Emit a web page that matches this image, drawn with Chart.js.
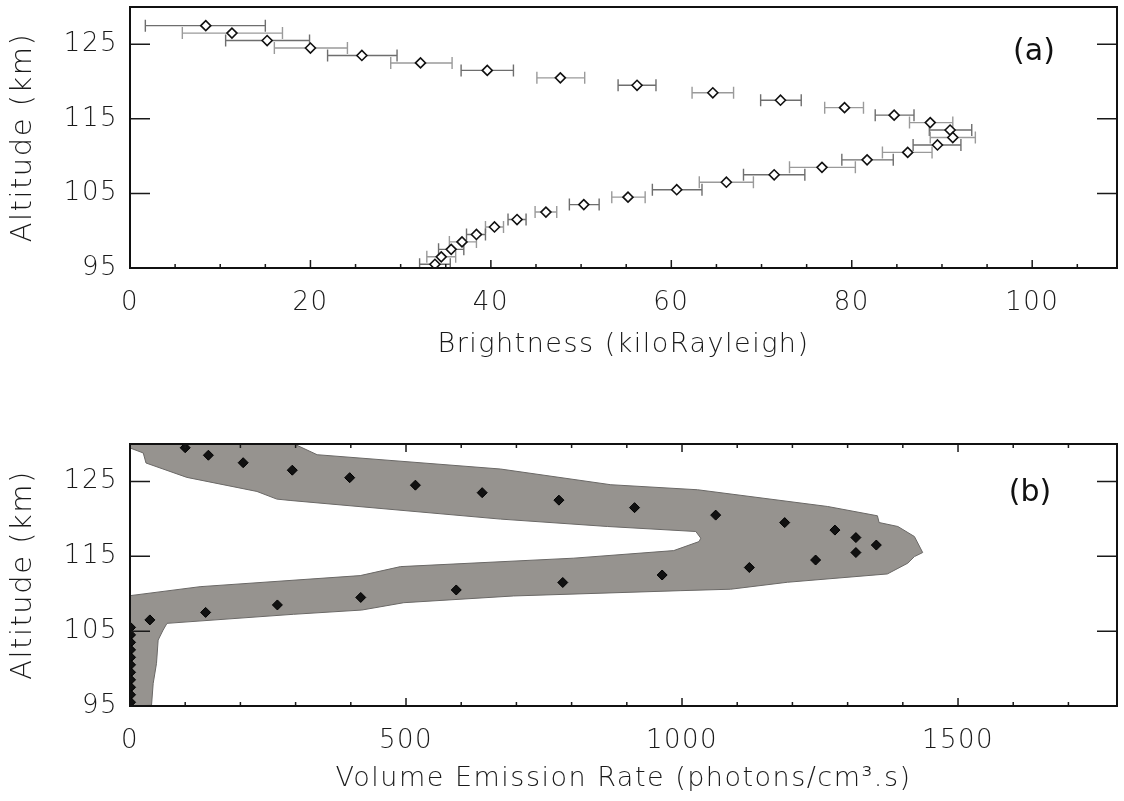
<!DOCTYPE html>
<html>
<head>
<meta charset="utf-8">
<script src="https://cdn.jsdelivr.net/npm/chart.js@4.4.1/dist/chart.umd.min.js"></script>
<style>
  html, body { margin: 0; padding: 0; background: #fff; }
  .panel { position: absolute; left: 0; width: 1124px; }
  #top { top: 0; height: 400px; }
  #bottom { top: 400px; height: 401px; }
</style>
</head>
<body>
<div class="panel" id="top"><canvas id="chartA"></canvas></div>
<div class="panel" id="bottom"><canvas id="chartB"></canvas></div>
<script>
// (a) brightness profile with horizontal error bars
var altA = [127.5, 126.5, 125.5, 124.5, 123.5, 122.5, 121.5, 120.5, 119.5, 118.5, 117.5,
            116.5, 115.5, 114.5, 113.5, 112.5, 111.5, 110.5, 109.5, 108.5, 107.5, 106.5,
            105.5, 104.5, 103.5, 102.5, 101.5, 100.5, 99.5, 98.5, 97.5, 96.5, 95.5];
var brightA = [8.4, 11.3, 15.2, 20.0, 25.7, 32.2, 39.6, 47.7, 56.2, 64.6, 72.1,
               79.2, 84.7, 88.7, 90.9, 91.2, 89.5, 86.2, 81.7, 76.7, 71.4, 66.1,
               60.6, 55.2, 50.3, 46.1, 42.9, 40.4, 38.4, 36.8, 35.6, 34.5, 33.8];
var errLoA = [1.7, 5.8, 10.6, 16.0, 21.9, 28.9, 36.7, 45.1, 54.1, 62.3, 69.9,
              77.0, 82.6, 86.4, 88.6, 88.7, 86.8, 83.4, 78.9, 73.1, 68.0, 63.1,
              57.9, 53.4, 48.7, 44.9, 41.9, 39.4, 37.3, 35.4, 34.2, 32.9, 32.1];
var errHiA = [15.0, 16.9, 19.9, 24.1, 29.6, 35.7, 42.5, 50.4, 58.3, 66.9, 74.4,
              81.3, 86.9, 91.2, 93.3, 93.7, 92.1, 88.9, 84.6, 80.4, 74.8, 69.1,
              63.4, 57.1, 52.0, 47.3, 43.9, 41.4, 39.4, 38.4, 37.0, 36.1, 35.5];

// (b) volume emission rate and its uncertainty envelope
var altB = [129.5, 128.5, 127.5, 126.5, 125.5, 124.5, 123.5, 122.5, 121.5, 120.5, 119.5, 118.5,
            117.5, 116.5, 115.5, 114.5, 113.5, 112.5, 111.5, 110.5, 109.5, 108.5, 107.5, 106.5,
            105.5, 104.5, 103.5, 102.5, 101.5, 100.5, 99.5, 98.5, 97.5, 96.5, 95.5];
var verB = [100, 142, 205, 294, 398, 517, 638, 777, 914, 1061, 1186, 1277,
            1315, 1352, 1315, 1242, 1122, 964, 784, 591, 418, 267, 137, 36,
            1, 1, 1, 1, 1, 1, 1, 1, 1, 1, 1];
var bandVer = [0, 296, 339, 671, 871, 1028, 1264, 1354, 1357, 1391, 1421, 1436,
               1421, 1409, 1372, 1191, 1088, 998, 695, 496, 420, 296, 67, 60,
               51, 48, 42, 39, 0, 0, 127, 417, 490, 804, 985, 1031,
               1034, 1025, 865, 671, 290, 266, 230, 103, 29, 24, 0];
var bandAlt = [130.05, 130.05, 128.57, 126.66, 124.56, 123.89, 121.65, 120.41, 119.51, 118.98, 117.64, 115.5,
               114.96, 114.08, 112.64, 111.53, 110.6, 110.41, 109.7, 108.8, 107.82, 107.25, 106.04, 105.15,
               103.81, 100.69, 98.01, 95.1, 95.0, 109.74, 110.94, 112.42, 113.62, 114.75, 115.76, 116.97,
               117.42, 118.31, 118.98, 119.97, 122.46, 122.64, 123.66, 125.54, 127.46, 128.8, 129.47];

// axis ticks
var altTicks = [95, 105, 115, 125];
var brightTicks = [0, 20, 40, 60, 80, 100];
var brightMinor = [5, 10, 15, 25, 30, 35, 45, 50, 55, 65, 70, 75, 85, 90, 95, 105];
var verTicks = [0, 500, 1000, 1500];
var verMinor = [100, 200, 300, 400, 600, 700, 800, 900, 1100, 1200, 1300, 1400, 1600, 1700];

var tickFont = { family: "'DejaVu Sans', sans-serif", size: 26, weight: 200 };
var titleFont = { family: "'DejaVu Sans', sans-serif", size: 27, weight: 200 };

function toPoints(xs, ys) {
  return xs.map(function(v, i) { return { x: v, y: ys[i] }; });
}

function setTicks(values) {
  return function(scale) {
    scale.ticks = values.map(function(v) { return { value: v }; });
  };
}

// wider letter spacing for the axis text
var spacingPlugin = {
  id: 'spacing',
  beforeUpdate: function(chart) { chart.ctx.letterSpacing = '1.5px'; },
  beforeDraw: function(chart) { chart.ctx.letterSpacing = '1.5px'; }
};

// frame, inward ticks and panel letter
var framePlugin = {
  id: 'frame',
  afterDatasetsDraw: function(chart, args, opts) {
    var ctx = chart.ctx, a = chart.chartArea;
    var x = chart.scales.x, y = chart.scales.y;
    ctx.save();
    ctx.strokeStyle = '#1a1a1a';
    ctx.lineWidth = 1.5;
    ctx.beginPath();
    opts.xMajor.forEach(function(v) {
      var px = x.getPixelForValue(v);
      ctx.moveTo(px, a.bottom); ctx.lineTo(px, a.bottom - 8);
      if (opts.topTicks) { ctx.moveTo(px, a.top); ctx.lineTo(px, a.top + 8); }
    });
    opts.xMinor.forEach(function(v) {
      var px = x.getPixelForValue(v);
      ctx.moveTo(px, a.bottom); ctx.lineTo(px, a.bottom - 4);
      if (opts.topTicks) { ctx.moveTo(px, a.top); ctx.lineTo(px, a.top + 4); }
    });
    opts.yMajor.forEach(function(v) {
      var py = y.getPixelForValue(v);
      ctx.moveTo(a.left, py); ctx.lineTo(a.left + 20, py);
      ctx.moveTo(a.right, py); ctx.lineTo(a.right - 20, py);
    });
    ctx.stroke();
    ctx.lineWidth = 2;
    ctx.strokeStyle = '#111';
    ctx.strokeRect(a.left, a.top, a.right - a.left, a.bottom - a.top);
    ctx.fillStyle = '#111';
    ctx.letterSpacing = '0px';
    ctx.font = "30px 'DejaVu Sans', sans-serif";
    ctx.textAlign = 'center';
    ctx.textBaseline = 'middle';
    ctx.fillText(opts.letter, a.right - opts.letterDx, a.top + opts.letterDy);
    ctx.restore();
  }
};

// horizontal error bars for panel (a)
var errorBarPlugin = {
  id: 'errorBars',
  beforeDatasetsDraw: function(chart) {
    var ctx = chart.ctx, a = chart.chartArea;
    var x = chart.scales.x, y = chart.scales.y;
    ctx.save();
    ctx.beginPath();
    ctx.rect(a.left, a.top, a.right - a.left, a.bottom - a.top);
    ctx.clip();
    ctx.lineWidth = 1.4;
    altA.forEach(function(alt, i) {
      var py = y.getPixelForValue(alt);
      var x0 = x.getPixelForValue(errLoA[i]);
      var x1 = x.getPixelForValue(errHiA[i]);
      ctx.strokeStyle = i % 2 ? '#9a9a9a' : '#6e6e6e';
      ctx.beginPath();
      ctx.moveTo(x0, py); ctx.lineTo(x1, py);
      ctx.moveTo(x0, py - 6); ctx.lineTo(x0, py + 6);
      ctx.moveTo(x1, py - 6); ctx.lineTo(x1, py + 6);
      ctx.stroke();
    });
    ctx.restore();
  }
};

Chart.defaults.color = '#1a1a1a';
Chart.defaults.animation = false;

function baseOptions(cfg) {
  return {
    responsive: true,
    maintainAspectRatio: false,
    layout: { padding: { top: cfg.padTop, right: 7, left: 0, bottom: 0 } },
    plugins: {
      legend: { display: false },
      tooltip: { enabled: false },
      frame: cfg.frame
    },
    scales: {
      x: {
        type: 'linear',
        min: 0,
        max: cfg.xMax,
        afterBuildTicks: setTicks(cfg.xTicks),
        afterFit: function(s) { s.height = cfg.xHeight; s.paddingLeft = 0; s.paddingRight = 0; },
        grid: { display: false, drawTicks: false },
        border: { display: false },
        ticks: { font: tickFont, padding: 20, maxRotation: 0, autoSkip: false,
                 callback: function(v) { return String(v); } },
        title: { display: true, text: cfg.xTitle, font: titleFont, padding: { top: 0, bottom: cfg.titlePad } }
      },
      y: {
        type: 'linear',
        min: 95,
        max: 130,
        afterBuildTicks: setTicks(altTicks),
        afterFit: function(s) { s.width = 130; s.paddingTop = 0; s.paddingBottom = 0; },
        grid: { display: false, drawTicks: false },
        border: { display: false },
        ticks: { font: tickFont, padding: 12, callback: function(v) { return String(v); } },
        title: { display: true, text: 'Altitude (km)', font: { family: "'DejaVu Sans', sans-serif", size: 29, weight: 200 }, padding: { top: 6, bottom: 0 } }
      }
    }
  };
}

new Chart(document.getElementById('chartA'), {
  type: 'scatter',
  data: {
    datasets: [{
      data: toPoints(brightA, altA),
      pointStyle: 'rectRot',
      pointRadius: 5,
      backgroundColor: '#ffffff',
      borderColor: '#111111',
      borderWidth: 1.6,
      clip: 0
    }]
  },
  options: baseOptions({
    padTop: 7, xMax: 109.4, xTicks: brightTicks, xHeight: 132, titlePad: 39,
    xTitle: 'Brightness (kiloRayleigh)',
    frame: { xMajor: brightTicks, xMinor: brightMinor, yMajor: altTicks, topTicks: false,
             letter: '(a)', letterDx: 83, letterDy: 45 }
  }),
  plugins: [spacingPlugin, errorBarPlugin, framePlugin]
});

new Chart(document.getElementById('chartB'), {
  type: 'scatter',
  data: {
    datasets: [{
      // envelope drawn as a closed polygon, kept behind the points
      type: 'line',
      order: 2,
      data: toPoints(bandVer, bandAlt),
      showLine: true,
      fill: 'shape',
      tension: 0,
      backgroundColor: '#96938f',
      borderColor: '#6a6866',
      borderWidth: 1,
      pointRadius: 0,
      clip: 0
    }, {
      order: 1,
      data: toPoints(verB, altB),
      pointStyle: 'rectRot',
      pointRadius: 5,
      backgroundColor: '#111111',
      borderColor: '#000000',
      borderWidth: 1,
      clip: 0
    }]
  },
  options: baseOptions({
    padTop: 44, xMax: 1788, xTicks: verTicks, xHeight: 95, titlePad: 6,
    xTitle: 'Volume Emission Rate (photons/cm\u00B3.s)',
    frame: { xMajor: verTicks, xMinor: verMinor, yMajor: altTicks, topTicks: true,
             letter: '(b)', letterDx: 87, letterDy: 49 }
  }),
  plugins: [spacingPlugin, framePlugin]
});
</script>
</body>
</html>
